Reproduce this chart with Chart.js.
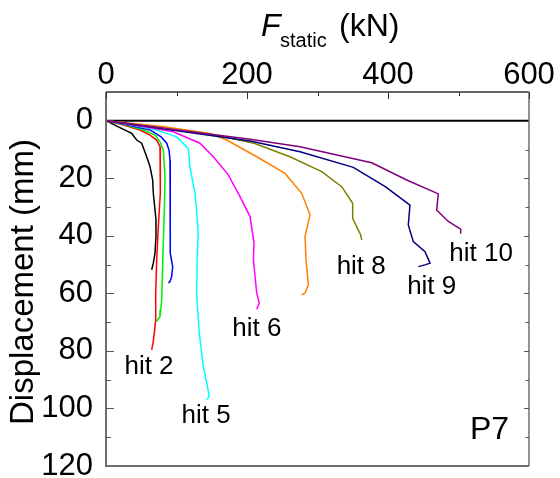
<!DOCTYPE html>
<html><head><meta charset="utf-8">
<script src="https://cdn.jsdelivr.net/npm/chart.js@4/dist/chart.umd.min.js"></script>
<style>html,body{margin:0;padding:0;background:#fff;}#wrap{width:560px;height:478px;}</style>
</head><body><div id="wrap"><canvas id="c" width="560" height="478"></canvas></div>
<script>
const FONT = "'Liberation Sans', Arial, Helvetica, sans-serif";

// Force F_static (kN) and displacement (mm) for each hit
const hit1F = [0, 17.5, 36.5, 43.5, 50.6, 57.7, 62.4, 66.2, 67.1, 69.5, 70.9, 70.9, 69.5, 67.1, 64.8];
const hit1D = [0, 2.1, 4.4, 6.7, 7.8, 12.5, 15.9, 20.6, 25.2, 30.9, 34.4, 40.2, 46.0, 49.5, 51.8];
const hit2F = [0, 25, 48.2, 62.4, 71.9, 76.6, 77.5, 76.6, 74.2, 71.9, 70.5, 70.5, 68.5, 67.1, 64.8];
const hit2D = [0, 1.5, 3.2, 5.0, 6.7, 9.0, 13.6, 25.2, 36.8, 48.3, 60.0, 69.2, 73.8, 76.7, 79.6];
const hit3F = [0, 28, 52.9, 69.5, 76.6, 81.3, 83.7, 82.7, 81.3, 79.9, 79.0, 77.6, 76.6, 72.8, 71.0];
const hit3D = [0, 1.5, 3.2, 5.0, 7.3, 10.2, 19.4, 31.0, 42.5, 54.1, 62.2, 65.7, 68.0, 69.4, 69.7];
const hit4F = [0, 30, 62.4, 78.2, 86.1, 89.4, 90.8, 90.8, 90.8, 91.8, 94.6, 93.2, 90.8, 88.4];
const hit4D = [0, 1.4, 3.2, 5.6, 7.8, 10.2, 13.6, 25.2, 36.8, 46.0, 50.7, 54.1, 55.9, 56.4];
const hit5F = [0, 35, 71.9, 100.3, 116.7, 119.1, 126.2, 128.5, 130.8, 129.4, 128.5, 132.3, 138.0, 142.8, 146.6, 142.8];
const hit5D = [0, 1.4, 3.2, 5.6, 9.6, 16.0, 25.2, 31.0, 39.1, 48.3, 59.9, 73.8, 85.4, 91.1, 95.8, 96.9];
const hit6F = [0, 67.1, 95.5, 133.3, 152.2, 173.5, 190.1, 204.3, 210.0, 209.1, 213.8, 217.5, 213.8];
const hit6D = [0, 2.6, 3.8, 7.8, 12.5, 18.8, 26.4, 33.3, 42.5, 48.3, 59.9, 63.4, 65.5];
const hit7F = [0, 80, 147.5, 171.2, 213.8, 253.9, 277.6, 289.4, 282.3, 283.7, 287.0, 282.3, 277.6];
const hit7D = [0, 2.0, 4.4, 6.7, 12.5, 18.3, 25.2, 32.7, 40.2, 48.3, 57.0, 59.9, 60.5];
const hit8F = [0, 157, 210, 260.9, 306, 334.3, 349.9, 349.9, 356.5, 361.3, 362.7];
const hit8D = [0, 5.0, 7.8, 12.5, 17.7, 22.9, 28.7, 33.9, 37.3, 39.7, 41.4];
const hit9F = [0, 204.3, 275.2, 350.8, 396.1, 431.2, 428.8, 435.9, 452.5, 459.6, 452.5, 443.1];
const hit9D = [0, 7.0, 10.8, 16.2, 22.9, 29.3, 36.2, 42.0, 45.5, 49.5, 50.1, 50.7];
const hit10F = [0, 204.3, 275.2, 376.9, 426.5, 471.4, 469.0, 485.5, 503.1, 503.1];
const hit10D = [0, 6.4, 9.0, 14.6, 20.6, 25.4, 31.0, 35.0, 37.7, 39.3];

const hitNames = ['hit 1','hit 2','hit 3','hit 4','hit 5','hit 6','hit 7','hit 8','hit 9','hit 10'];
const hitColors = ['#000000','#ff0000','#00ee00','#0000ff','#00ffff','#ff00ff','#ff8000','#808000','#000080','#800080'];
const hitF = [hit1F, hit2F, hit3F, hit4F, hit5F, hit6F, hit7F, hit8F, hit9F, hit10F];
const hitD = [hit1D, hit2D, hit3D, hit4D, hit5D, hit6D, hit7D, hit8D, hit9D, hit10D];

// x ticks and y ticks
const xTickLabels = [0, 200, 400, 600];
const yTickLabels = [0, 20, 40, 60, 80, 100, 120];

// text labels in the plot (text, F, D)
const noteText = ['hit 2', 'hit 5', 'hit 6', 'hit 8', 'hit 9', 'hit 10'];
const noteF = [61, 142, 214, 362, 462, 532];
const noteD = [85.5, 102.5, 72.3, 50.6, 57.7, 46.4];
const panelText = 'P7';

const datasets = hitNames.map((n, i) => ({
  label: n,
  data: hitF[i].map((f, k) => ({x: f, y: hitD[i][k]})),
  borderColor: hitColors[i],
  backgroundColor: hitColors[i],
  borderWidth: 1.5,
  pointRadius: 0,
  showLine: true,
  tension: 0,
  fill: false,
  order: 10 - i
}));

const deco = {
  id: 'deco',
  beforeDatasetsDraw(chart) {
    const ctx = chart.ctx, a = chart.chartArea, ys = chart.scales.y;
    ctx.save();
    ctx.strokeStyle = '#000';
    ctx.lineWidth = 2;
    const y0 = ys.getPixelForValue(0);
    ctx.beginPath(); ctx.moveTo(a.left, y0); ctx.lineTo(a.right, y0); ctx.stroke();
    ctx.restore();
  },
  afterDraw(chart) {
    const ctx = chart.ctx, a = chart.chartArea, xs = chart.scales.x, ys = chart.scales.y;
    ctx.save();
    // frame
    ctx.lineWidth = 1.5;
    ctx.strokeStyle = '#333';
    ctx.beginPath(); ctx.moveTo(a.left, a.top); ctx.lineTo(a.right, a.top); ctx.stroke();
    ctx.strokeStyle = '#6e6e6e';
    ctx.lineWidth = 2;
    ctx.beginPath(); ctx.moveTo(a.left, a.top); ctx.lineTo(a.left, a.bottom); ctx.lineTo(a.right, a.bottom); ctx.stroke();
    ctx.lineWidth = 1.5;
    ctx.beginPath(); ctx.moveTo(a.right, a.top); ctx.lineTo(a.right, a.bottom); ctx.stroke();
    // ticks
    ctx.lineWidth = 1;
    ctx.strokeStyle = '#333';
    for (let v = 0; v <= 600; v += 100) {
      const x = Math.round(xs.getPixelForValue(v)) + 0.5;
      const len = v % 200 === 0 ? 7 : 4;
      ctx.beginPath(); ctx.moveTo(x, a.top); ctx.lineTo(x, a.top + len); ctx.stroke();
    }
    ctx.strokeStyle = '#555';
    for (let v = 10; v < 120; v += 10) {
      const y = Math.round(ys.getPixelForValue(v)) + 0.5;
      const len = v % 20 === 0 ? 8 : 5;
      ctx.beginPath(); ctx.moveTo(a.left, y); ctx.lineTo(a.left + len, y); ctx.stroke();
      const lr = v % 20 === 0 ? 5 : 3.5;
      ctx.beginPath(); ctx.moveTo(a.right, y); ctx.lineTo(a.right - lr, y); ctx.stroke();
    }
    // axis titles
    ctx.fillStyle = '#000';
    ctx.textBaseline = 'alphabetic';
    ctx.textAlign = 'left';
    ctx.font = 'italic 32px ' + FONT;
    ctx.fillText('F', 261, 36);
    ctx.font = '20px ' + FONT;
    ctx.fillText('static', 280, 46.5);
    ctx.font = '32px ' + FONT;
    ctx.fillText('(kN)', 339, 36);
    ctx.save();
    ctx.translate(33, 282);
    ctx.rotate(-Math.PI / 2);
    ctx.textAlign = 'center';
    ctx.font = '33px ' + FONT;
    ctx.fillText('Displacement (mm)', 0, 0);
    ctx.restore();
    // notes
    ctx.textAlign = 'center';
    ctx.textBaseline = 'middle';
    ctx.font = '26px ' + FONT;
    noteText.forEach((t, i) => {
      ctx.fillText(t, xs.getPixelForValue(noteF[i]), ys.getPixelForValue(noteD[i]));
    });
    ctx.font = '32px ' + FONT;
    ctx.fillText(panelText, xs.getPixelForValue(544), ys.getPixelForValue(107.4));
    ctx.restore();
  }
};

new Chart(document.getElementById('c'), {
  type: 'scatter',
  data: { datasets },
  options: {
    responsive: false,
    animation: false,
    devicePixelRatio: 1,
    layout: { autoPadding: false, padding: { left: 0, top: 0, right: 31, bottom: 12 } },
    plugins: { legend: { display: false }, tooltip: { enabled: false } },
    scales: {
      x: {
        type: 'linear', position: 'top', min: 0, max: 600,
        grid: { display: false, drawTicks: false },
        border: { display: false },
        ticks: {
          stepSize: 100, autoSkip: false, maxRotation: 0, padding: -2, color: '#000',
          font: { size: 31, family: FONT },
          callback: v => xTickLabels.includes(v) ? String(v) : ''
        },
        afterFit(s) { s.height = 92; s.paddingLeft = 0; s.paddingRight = 0; }
      },
      y: {
        type: 'linear', reverse: true, min: -10, max: 120,
        grid: { display: false, drawTicks: false },
        border: { display: false },
        ticks: {
          stepSize: 10, autoSkip: false, padding: 13, color: '#000',
          font: { size: 31, family: FONT },
          callback: v => yTickLabels.includes(v) ? String(v) : ''
        },
        afterFit(s) { s.width = 106; s.paddingTop = 0; s.paddingBottom = 0; }
      }
    }
  },
  plugins: [deco]
});
</script>
</body></html>
